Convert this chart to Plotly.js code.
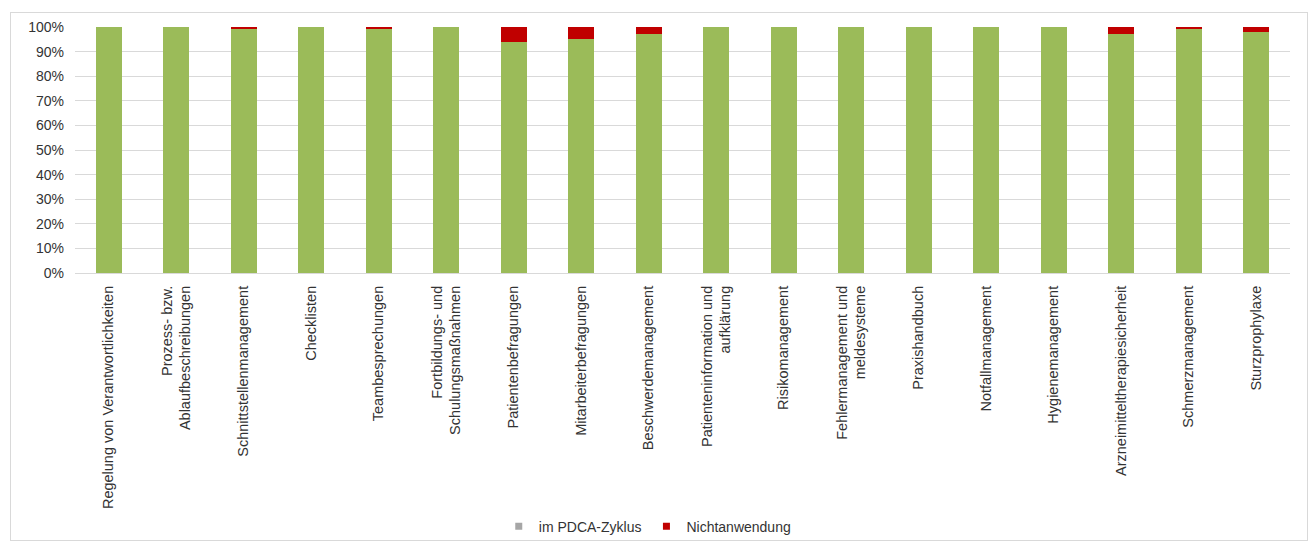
<!DOCTYPE html>
<html>
<head>
<meta charset="utf-8">
<script src="https://cdn.plot.ly/plotly-3.0.1.min.js"></script>
<style>
  html, body { margin: 0; padding: 0; background: #fff; }
  #frame { position: absolute; left: 10px; top: 12px; width: 1296px; height: 527px; border: 1px solid #d9d9d9; pointer-events: none; }
  #chart { position: absolute; left: 0; top: 0; width: 1309px; height: 543px; }
</style>
</head>
<body>
<div id="chart"></div>
<div id="frame"></div>
<script>
const categories = [
  "Regelung von Verantwortlichkeiten",
  "Prozess- bzw.<br>Ablaufbeschreibungen",
  "Schnittstellenmanagement",
  "Checklisten",
  "Teambesprechungen",
  "Fortbildungs- und<br>Schulungsmaßnahmen",
  "Patientenbefragungen",
  "Mitarbeiterbefragungen",
  "Beschwerdemanagement",
  "Patienteninformation und<br>aufklärung",
  "Risikomanagement",
  "Fehlermanagement und<br>meldesysteme",
  "Praxishandbuch",
  "Notfallmanagement",
  "Hygienemanagement",
  "Arzneimitteltherapiesicherheit",
  "Schmerzmanagement",
  "Sturzprophylaxe"
];
const imPDCA = [100, 100, 99, 100, 99, 100, 94, 95, 97, 100, 100, 100, 100, 100, 100, 97, 99, 98];
const nichtanwendung = [0, 0, 1, 0, 1, 0, 6, 5, 3, 0, 0, 0, 0, 0, 0, 3, 1, 2];
const yTickVals = [0, 10, 20, 30, 40, 50, 60, 70, 80, 90, 100];
const yTickText = ["0%", "10%", "20%", "30%", "40%", "50%", "60%", "70%", "80%", "90%", "100%"];
const seriesNames = ["im PDCA-Zyklus", "Nichtanwendung"];

const GREEN = "#9bbb59", RED = "#c00000", LEGEND_GREY = "#a6a6a6";
const FONT = "Liberation Sans, Arial, sans-serif";

const traces = [
  { type: "bar", x: categories, y: imPDCA, name: seriesNames[0], marker: { color: GREEN }, showlegend: false, hoverinfo: "y" },
  { type: "bar", x: categories, y: nichtanwendung, name: seriesNames[1], marker: { color: RED }, showlegend: false, hoverinfo: "y" },
  { type: "scatter", mode: "markers", x: [null], y: [null], name: seriesNames[0], marker: { symbol: "square", size: 7, color: LEGEND_GREY }, showlegend: true },
  { type: "scatter", mode: "markers", x: [null], y: [null], name: seriesNames[1], marker: { symbol: "square", size: 7, color: RED }, showlegend: true }
];

const layout = {
  width: 1309, height: 543,
  margin: { l: 75, r: 19, t: 27, b: 270, autoexpand: false },
  paper_bgcolor: "rgba(0,0,0,0)",
  plot_bgcolor: "#fff",
  barmode: "stack",
  bargap: 0.61,
  font: { family: FONT, size: 13, color: "#333" },
  xaxis: {
    type: "category",
    tickangle: -90,
    tickfont: { family: FONT, size: 14.5, color: "#333" },
    showgrid: false,
    showline: true, linecolor: "#d9d9d9", linewidth: 1,
    ticks: "", ticklabelstandoff: 6,
    fixedrange: true
  },
  yaxis: {
    range: [0, 100],
    tickvals: yTickVals, ticktext: yTickText,
    tickfont: { family: FONT, size: 14, color: "#333" },
    showgrid: true, gridcolor: "#d9d9d9", gridwidth: 1,
    zeroline: false, showline: false,
    ticks: "", ticklabelstandoff: 10,
    fixedrange: true
  },
  showlegend: true,
  legend: {
    orientation: "h",
    traceorder: "normal",
    x: 0.471, xanchor: "center",
    yref: "container",
    y: 0.03, yanchor: "middle",
    font: { family: FONT, size: 14, color: "#333" },
    itemwidth: 30,
    bgcolor: "rgba(0,0,0,0)"
  }
};

Plotly.newPlot("chart", traces, layout, { displayModeBar: false, staticPlot: true });
</script>
</body>
</html>
